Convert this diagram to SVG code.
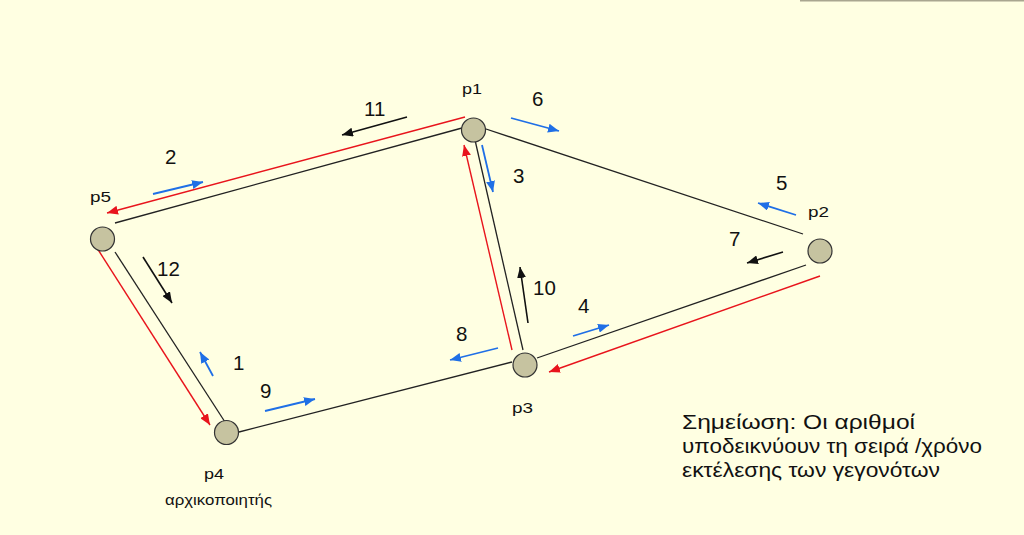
<svg xmlns="http://www.w3.org/2000/svg" width="1024" height="535" viewBox="0 0 1024 535">
<style>
.edge{stroke:#222;stroke-width:1.3;fill:none}
.red{stroke:#e8141c;stroke-width:1.4;fill:none;marker-end:url(#mr)}
.blue{stroke:#1f6fe6;stroke-width:1.8;fill:none;marker-end:url(#mb)}
.blk{stroke:#111;stroke-width:1.6;fill:none;marker-end:url(#mk)}
.node{fill:#c6c3a0;stroke:#333;stroke-width:1.2}
.num{font-family:"Liberation Sans",Arial,sans-serif;font-size:20.5px;fill:#111}
.lbl{font-family:"Liberation Sans",Arial,sans-serif;font-size:15px;fill:#111}
.note{font-family:"Liberation Sans",Arial,sans-serif;font-size:20px;fill:#111}
</style>
<defs>
<marker id="mr" markerUnits="userSpaceOnUse" markerWidth="11" markerHeight="9" refX="11" refY="4.5" orient="auto"><path d="M0,0 L11,4.5 L0,9 z" fill="#e8141c"/></marker>
<marker id="mb" markerUnits="userSpaceOnUse" markerWidth="11" markerHeight="9" refX="11" refY="4.5" orient="auto"><path d="M0,0 L11,4.5 L0,9 z" fill="#1f6fe6"/></marker>
<marker id="mk" markerUnits="userSpaceOnUse" markerWidth="11" markerHeight="9" refX="11" refY="4.5" orient="auto"><path d="M0,0 L11,4.5 L0,9 z" fill="#111"/></marker>
</defs>
<rect x="0" y="0" width="1024" height="535" fill="#ffffe2"/>
<line x1="800" y1="0.8" x2="1024" y2="0.8" stroke="#a9a690" stroke-width="1.6"/>
<g id="connectors">
<line class="edge" x1="115" y1="223" x2="462" y2="128"/>
<line class="edge" x1="483" y1="128" x2="803" y2="234"/>
<line class="edge" x1="475" y1="140" x2="523" y2="350"/>
<line class="edge" x1="537" y1="358" x2="806" y2="265"/>
<line class="edge" x1="239" y1="432" x2="512" y2="362"/>
<line class="edge" x1="115" y1="252" x2="225" y2="422"/>
<line class="red" x1="465" y1="117" x2="107" y2="213"/>
<line class="red" x1="512" y1="350" x2="464" y2="145"/>
<line class="red" x1="820" y1="276" x2="549" y2="372"/>
<line class="red" x1="97" y1="248" x2="210" y2="425"/>
<line class="blue" x1="213" y1="376" x2="200" y2="352"/>
<line class="blue" x1="153" y1="194" x2="203" y2="182"/>
<line class="blue" x1="482" y1="145" x2="493" y2="192"/>
<line class="blue" x1="573" y1="336" x2="609" y2="325"/>
<line class="blue" x1="796" y1="215" x2="758" y2="203"/>
<line class="blue" x1="511" y1="118" x2="559" y2="131"/>
<line class="blue" x1="498" y1="348" x2="450" y2="360"/>
<line class="blue" x1="265" y1="411" x2="315" y2="399"/>
<line class="blk" x1="783" y1="252" x2="747" y2="263"/>
<line class="blk" x1="528" y1="323" x2="520" y2="267"/>
<line class="blk" x1="407" y1="117" x2="342" y2="135"/>
<line class="blk" x1="143" y1="257" x2="172" y2="303"/>
<text class="num" x="364" y="116">11</text>
<text class="num" x="165" y="164">2</text>
<text class="num" x="532" y="106">6</text>
<text class="num" x="513" y="183">3</text>
<text class="num" x="533" y="295">10</text>
<text class="num" x="578" y="313">4</text>
<text class="num" x="776" y="190">5</text>
<text class="num" x="729" y="246">7</text>
<text class="num" x="456" y="341">8</text>
<text class="num" x="157" y="276">12</text>
<text class="num" x="233" y="370">1</text>
<text class="num" x="260" y="398">9</text>
</g>
<g id="p1"><circle class="node" cx="473.5" cy="130" r="12"/><text class="lbl" x="462" y="94" textLength="20" lengthAdjust="spacingAndGlyphs">p1</text></g>
<g id="p2"><circle class="node" cx="820" cy="251" r="12"/><text class="lbl" x="808" y="217" textLength="21" lengthAdjust="spacingAndGlyphs">p2</text></g>
<g id="p3"><circle class="node" cx="525" cy="365" r="12"/><text class="lbl" x="512" y="413" textLength="21" lengthAdjust="spacingAndGlyphs">p3</text></g>
<g id="p4"><circle class="node" cx="226.5" cy="432.5" r="12"/><text class="lbl" x="204" y="479" textLength="20" lengthAdjust="spacingAndGlyphs">p4</text><text class="lbl" x="165" y="505" textLength="107" lengthAdjust="spacingAndGlyphs">αρχικοποιητής</text></g>
<g id="p5"><circle class="node" cx="102.5" cy="239" r="12"/><text class="lbl" x="90" y="202" textLength="21" lengthAdjust="spacingAndGlyphs">p5</text></g>
<g id="note">
<text class="note" x="682" y="429" textLength="233" lengthAdjust="spacingAndGlyphs">Σημείωση: Οι αριθμοί</text>
<text class="note" x="682" y="453" textLength="300" lengthAdjust="spacingAndGlyphs">υποδεικνύουν τη σειρά /χρόνο</text>
<text class="note" x="682" y="477" textLength="258" lengthAdjust="spacingAndGlyphs">εκτέλεσης των γεγονότων</text>
</g>
</svg>
